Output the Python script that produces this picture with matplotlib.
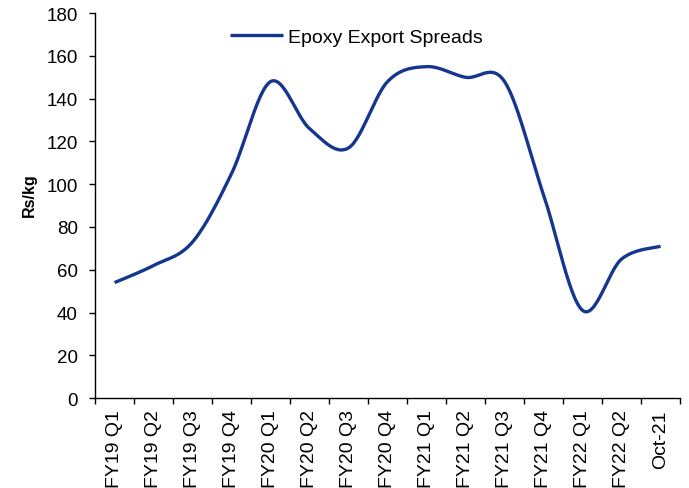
import numpy as np
import matplotlib.pyplot as plt

plt.rcParams['font.family'] = ['Liberation Sans', 'DejaVu Sans']

quarters = ['FY19 Q1', 'FY19 Q2', 'FY19 Q3', 'FY19 Q4', 'FY20 Q1', 'FY20 Q2',
            'FY20 Q3', 'FY20 Q4', 'FY21 Q1', 'FY21 Q2', 'FY21 Q3', 'FY21 Q4',
            'FY22 Q1', 'FY22 Q2', 'Oct-21']
spreads = [54, 62, 73, 105, 148, 126, 117, 148, 155, 150, 148, 95, 41, 65, 71]

LINE_COLOR = '#15368e'


def smooth_line(x, y, steps=30):
    # Excel-like smoothed line: Catmull-Rom style cubic bezier segments
    x = np.asarray(x, dtype=float)
    y = np.asarray(y, dtype=float)
    px = np.concatenate([[x[0]], x, [x[-1]]])
    py = np.concatenate([[y[0]], y, [y[-1]]])
    out_x, out_y = [], []
    t = np.linspace(0, 1, steps)
    for i in range(1, len(px) - 2):
        p0 = np.array([px[i], py[i]])
        p3 = np.array([px[i + 1], py[i + 1]])
        c1 = p0 + (np.array([px[i + 1], py[i + 1]]) - np.array([px[i - 1], py[i - 1]])) / 6
        c2 = p3 - (np.array([px[i + 2], py[i + 2]]) - np.array([px[i], py[i]])) / 6
        b = ((1 - t) ** 3)[:, None] * p0 + (3 * (1 - t) ** 2 * t)[:, None] * c1 \
            + (3 * (1 - t) * t ** 2)[:, None] * c2 + (t ** 3)[:, None] * p3
        out_x.extend(b[:, 0])
        out_y.extend(b[:, 1])
    return out_x, out_y


fig = plt.figure(figsize=(6.89, 4.89), dpi=100)
ax = fig.add_axes([0.138, 0.184, 0.849, 0.787])

xs = np.arange(len(quarters))
sx, sy = smooth_line(xs, spreads)
ax.plot(sx, sy, color=LINE_COLOR, linewidth=2.4, solid_capstyle='butt',
        label='Epoxy Export Spreads')

ax.set_xlim(-0.5, len(quarters) - 0.5)
ax.set_ylim(0, 180)
ax.set_yticks(np.arange(0, 181, 20))

# tick marks between categories, labels centred on categories
ax.set_xticks(np.arange(-0.5, len(quarters), 1))
ax.set_xticklabels([])
ax.set_xticks(xs, minor=True)
ax.set_xticklabels(quarters, minor=True, rotation=90, ha='center', va='top')
ax.tick_params(axis='x', which='minor', length=0, pad=8, labelsize=14)
ax.tick_params(axis='x', which='major', length=4.5, width=1, direction='out')
ax.tick_params(axis='y', length=4.5, width=1, direction='out', labelsize=13.5, pad=8)

for side in ['top', 'right']:
    ax.spines[side].set_visible(False)
for side in ['left', 'bottom']:
    ax.spines[side].set_linewidth(1)

ax.set_ylabel('Rs/kg', fontsize=11.5, fontweight='bold')
ax.yaxis.set_label_coords(-0.1, 0.53)

ax.legend(loc='center left', bbox_to_anchor=(0.231, 0.938), frameon=False,
          fontsize=14, handlelength=2.73, handletextpad=0.26,
          borderpad=0, borderaxespad=0)

fig.savefig('out.png', dpi=100)
